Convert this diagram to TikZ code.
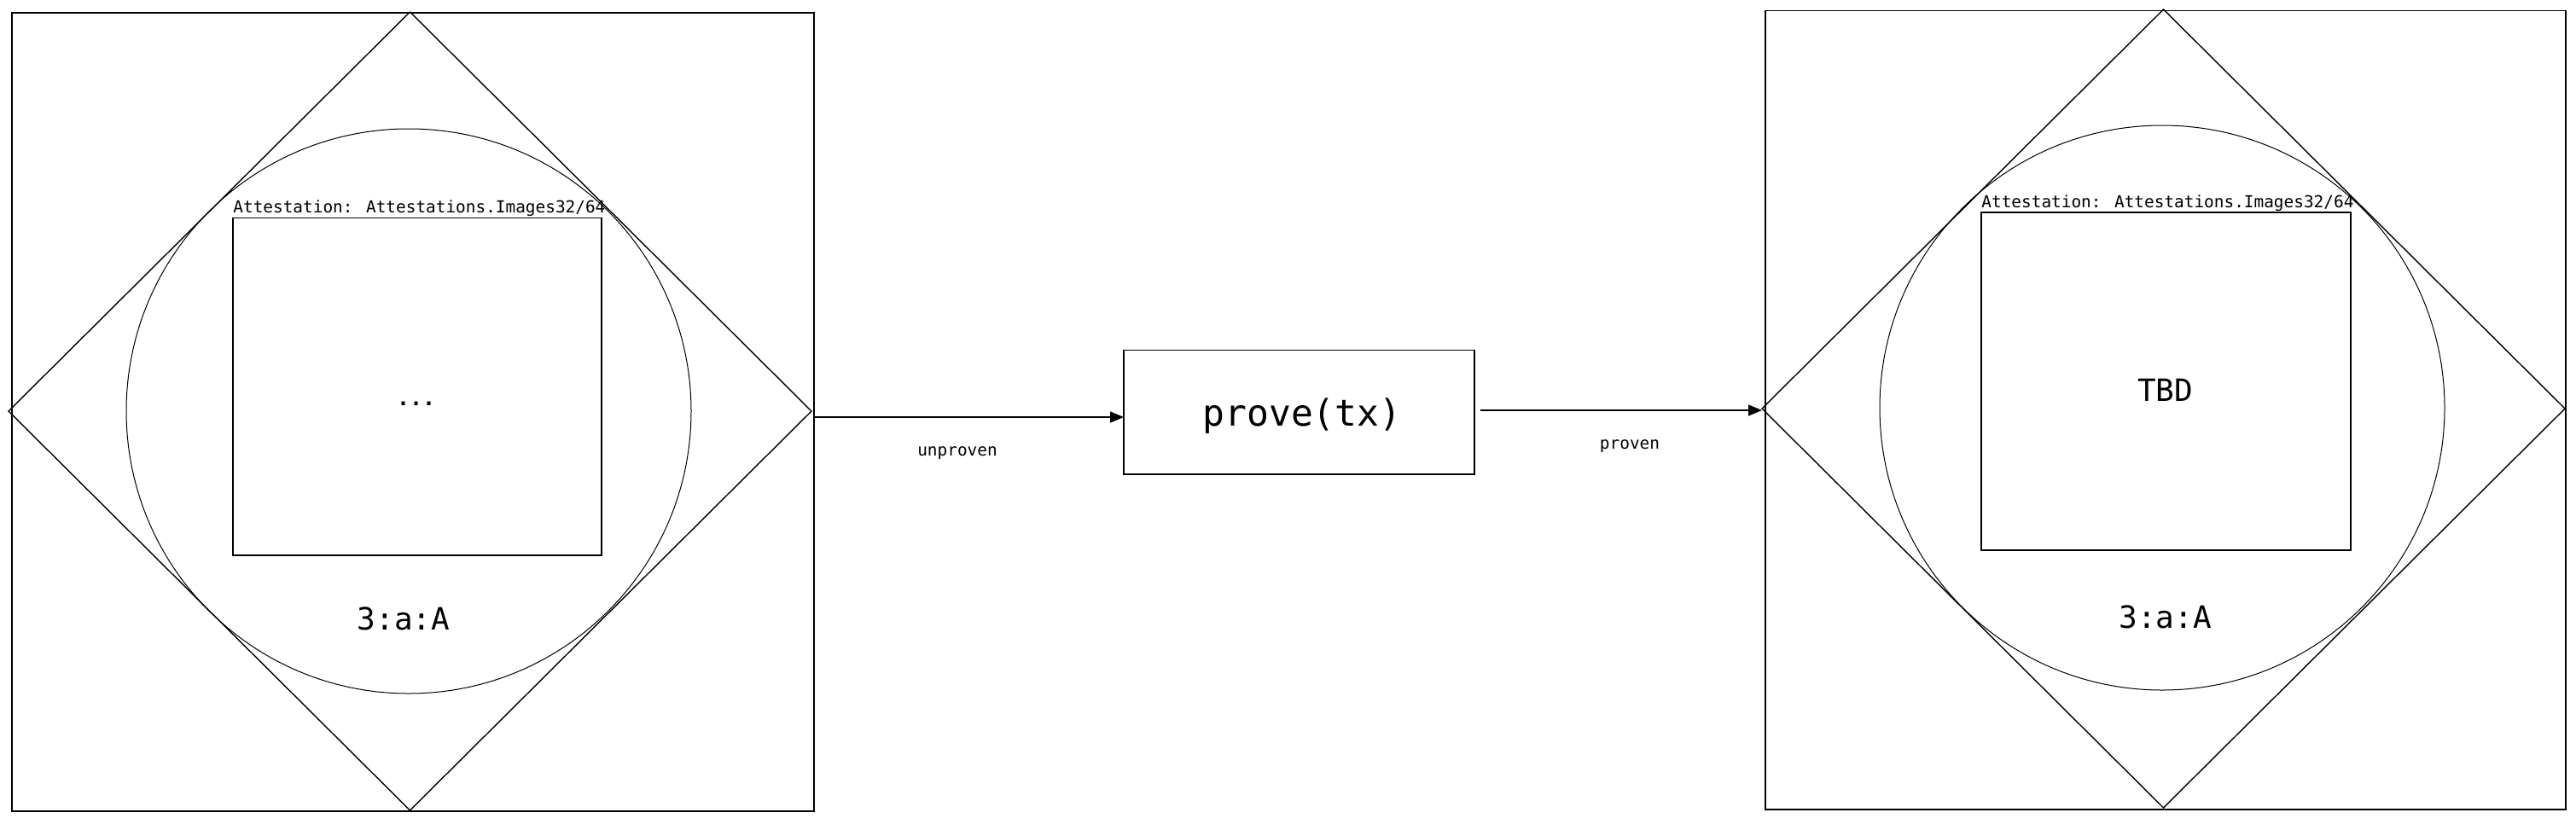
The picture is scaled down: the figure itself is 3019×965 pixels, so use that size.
\documentclass[tikz,border=0pt]{standalone}
\usepackage{fontspec}
\newfontfamily\dmono{DejaVu Sans Mono}
\usetikzlibrary{shapes.geometric,arrows.meta}
\tikzset{
  box/.style={draw, line width=0.7pt, inner sep=0pt, outer sep=0pt},
  dia/.style={draw, diamond, line width=0.7pt, inner sep=0pt, outer sep=0pt, minimum width=470.5pt, minimum height=468pt},
  circ/.style={draw, circle, line width=0.5pt, inner sep=0pt, outer sep=0pt, minimum size=331pt},
  attlab/.style={anchor=base west, inner sep=0pt, font=\dmono\fontsize{9.7}{11}\selectfont},
  small/.style={inner sep=0pt, font=\dmono\fontsize{9.7}{11}\selectfont},
  big/.style={inner sep=0pt, font=\dmono\fontsize{18}{20}\selectfont},
  arr/.style={line width=0.7pt, -{Triangle[length=8pt,width=6.5pt]}}
}
\begin{document}
\begin{tikzpicture}[x=0.5pt,y=-0.5pt]
\useasboundingbox (0,0) rectangle (3019,965);
% left group
\node[box, minimum width=470pt, minimum height=468pt] (Lsq) at (484,483) {};
\node[dia] (Ldia) at (480.5,482) {};
\node[circ] (Lcirc) at (479,482) {};
\node[box, minimum width=216pt, minimum height=197.75pt] (Lin) at (489,453.25) {};
\node[attlab] (Llab) at ([yshift=3.2pt]Lin.north west) {Attestation: Attestations.Images32/64};
\node[inner sep=0pt, anchor=base, font=\dmono\bfseries\fontsize{12.5}{14}\selectfont] (Ldots) at (487.7,475.5) {...};
\node[big] (Lid) at (473,725) {3:a:A};
% middle
\node[box, minimum width=205.5pt, minimum height=72.65pt] (prove) at (1522.5,483.35) {};
\node[inner sep=0pt, anchor=base, font=\dmono\fontsize{21.5}{24}\selectfont] (provetxt) at (1526,499) {prove(tx)};
% right group
\node[box, minimum width=469pt, minimum height=468.25pt] (Rsq) at (2538,480.75) {};
\node[dia] (Rdia) at (2535.5,479) {};
\node[circ] (Rcirc) at (2534,478) {};
\node[box, minimum width=216.5pt, minimum height=198pt] (Rin) at (2538.5,447) {};
\node[attlab] (Rlab) at ([yshift=3pt]Rin.north west) {Attestation: Attestations.Images32/64};
\node[big] (Rtbd) at (2537.7,457) {TBD};
\node[big] (Rid) at (2537.7,723) {3:a:A};
% connectors
\draw[arr] ([yshift=-3pt]Lsq.east) -- ([yshift=-3pt]Lsq.east -| prove.west);
\draw[arr] ([xshift=3.5pt,yshift=-1pt]prove.east |- Rdia.west) -- ([yshift=-1pt]Rdia.west);
\node[small] (lu) at (1122,531) {unproven};
\node[small] (lp) at (1910,523) {proven};
\end{tikzpicture}
\end{document}
